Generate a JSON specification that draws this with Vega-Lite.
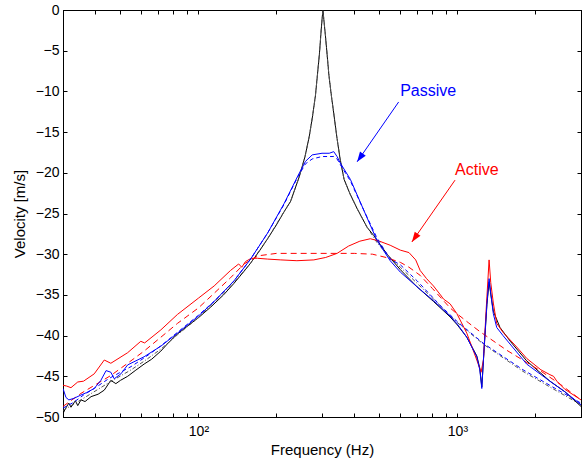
{
  "$schema": "https://vega.github.io/schema/vega-lite/v6.json",
  "width": 518,
  "height": 407,
  "autosize": "none",
  "padding": {"left": 63, "top": 10, "right": 4, "bottom": 45},
  "background": "white",
  "config": {
    "view": {"stroke": "black", "strokeWidth": 1},
    "font": "Liberation Sans",
    "axis": {"grid": false, "domainColor": "black", "tickColor": "black", "labelColor": "black", "titleColor": "black", "labelFont": "Liberation Sans", "titleFont": "Liberation Sans", "labelFontSize": 14, "titleFontSize": 15, "titleFontWeight": "normal", "tickSize": -4, "labelOverlap": false, "labelFlush": false}
  },
  "datasets": {
    "c": [
      {"s":"k","f":30,"v":-49.6},{"s":"k","f":30.6,"v":-49.0},{"s":"k","f":31.6,"v":-48.3},{"s":"k","f":32.2,"v":-48.8},{"s":"k","f":33.5,"v":-48.0},{"s":"k","f":34.2,"v":-48.6},{"s":"k","f":35.2,"v":-47.9},{"s":"k","f":36.5,"v":-48.1},{"s":"k","f":38.5,"v":-47.5},{"s":"k","f":41,"v":-47.2},{"s":"k","f":43.3,"v":-46.7},{"s":"k","f":45.9,"v":-45.5},{"s":"k","f":48,"v":-45.9},{"s":"k","f":50,"v":-45.5},{"s":"k","f":53.3,"v":-45.0},{"s":"k","f":57,"v":-44.3},{"s":"k","f":61.7,"v":-43.5},{"s":"k","f":66,"v":-42.9},{"s":"k","f":71.6,"v":-41.9},{"s":"k","f":77,"v":-40.8},{"s":"k","f":83,"v":-39.8},{"s":"k","f":91,"v":-38.8},{"s":"k","f":100,"v":-37.8},{"s":"k","f":111.5,"v":-36.5},{"s":"k","f":125,"v":-35.0},{"s":"k","f":137,"v":-33.6},{"s":"k","f":150,"v":-32.1},{"s":"k","f":159,"v":-31.1},{"s":"k","f":172,"v":-29.6},{"s":"k","f":185,"v":-28.1},{"s":"k","f":200,"v":-26.4},{"s":"k","f":214,"v":-24.8},{"s":"k","f":227,"v":-23.5},{"s":"k","f":245,"v":-20.5},{"s":"k","f":258,"v":-18.0},{"s":"k","f":268,"v":-15.5},{"s":"k","f":276,"v":-13.0},{"s":"k","f":283,"v":-10.5},{"s":"k","f":288,"v":-8.0},{"s":"k","f":293,"v":-5.5},{"s":"k","f":297,"v":-3.0},{"s":"k","f":300,"v":-1.2},{"s":"k","f":302.5,"v":0},{"s":"k","f":305,"v":-1.2},{"s":"k","f":309,"v":-3.0},{"s":"k","f":314,"v":-5.5},{"s":"k","f":319,"v":-8.0},{"s":"k","f":326,"v":-10.5},{"s":"k","f":334,"v":-13.0},{"s":"k","f":343,"v":-15.8},{"s":"k","f":352,"v":-18.2},{"s":"k","f":365,"v":-20.8},{"s":"k","f":385,"v":-22.6},{"s":"k","f":410,"v":-24.4},{"s":"k","f":448,"v":-26.7},{"s":"k","f":475,"v":-27.7},{"s":"k","f":535,"v":-30.0},{"s":"k","f":602,"v":-31.9},{"s":"k","f":698,"v":-34.0},{"s":"k","f":808,"v":-35.8},{"s":"k","f":937,"v":-37.7},{"s":"k","f":1000,"v":-38.7},{"s":"k","f":1087,"v":-40.2},{"s":"k","f":1188,"v":-42.5},{"s":"k","f":1220,"v":-44.0},{"s":"k","f":1242,"v":-46.3},{"s":"k","f":1265,"v":-42.2},{"s":"k","f":1300,"v":-36.2},{"s":"k","f":1325,"v":-33.4},{"s":"k","f":1345,"v":-34.9},{"s":"k","f":1376,"v":-37.0},{"s":"k","f":1460,"v":-39.0},{"s":"k","f":1600,"v":-40.7},{"s":"k","f":1851,"v":-43.1},{"s":"k","f":2276,"v":-45.6},{"s":"k","f":2600,"v":-46.9},{"s":"k","f":3000,"v":-48.7},

      {"s":"km","f":30,"v":-49.2},{"s":"km","f":36,"v":-47.7},{"s":"km","f":45,"v":-45.8},{"s":"km","f":55,"v":-44.2},{"s":"km","f":62,"v":-43.1},{"s":"km","f":72,"v":-41.6},{"s":"km","f":83,"v":-39.9},{"s":"km","f":100,"v":-37.8},{"s":"km","f":137,"v":-33.5},{"s":"km","f":159,"v":-31.1},{"s":"km","f":185,"v":-28.1},{"s":"km","f":210,"v":-25.2},{"s":"km","f":227,"v":-23.5},{"s":"km","f":245,"v":-20.5},{"s":"km","f":258,"v":-18.0},{"s":"km","f":268,"v":-15.5},{"s":"km","f":276,"v":-13.0},{"s":"km","f":283,"v":-10.5},{"s":"km","f":288,"v":-8.0},{"s":"km","f":293,"v":-5.5},{"s":"km","f":297,"v":-3.0},{"s":"km","f":300,"v":-1.2},{"s":"km","f":302.5,"v":0},{"s":"km","f":305,"v":-1.2},{"s":"km","f":309,"v":-3.0},{"s":"km","f":314,"v":-5.5},{"s":"km","f":319,"v":-8.0},{"s":"km","f":326,"v":-10.5},{"s":"km","f":334,"v":-13.0},{"s":"km","f":343,"v":-15.8},{"s":"km","f":352,"v":-18.2},{"s":"km","f":365,"v":-20.8},{"s":"km","f":385,"v":-22.6},{"s":"km","f":410,"v":-24.4},{"s":"km","f":448,"v":-26.7},{"s":"km","f":490,"v":-28.6},{"s":"km","f":535,"v":-30.0},{"s":"km","f":602,"v":-31.6},{"s":"km","f":700,"v":-33.6},{"s":"km","f":808,"v":-35.5},{"s":"km","f":1000,"v":-38.4},{"s":"km","f":1265,"v":-41.1},{"s":"km","f":1792,"v":-44.4},{"s":"km","f":2300,"v":-46.4},{"s":"km","f":3000,"v":-48.5},

      {"s":"rm","f":30,"v":-48.7},{"s":"rm","f":35.2,"v":-47.1},{"s":"rm","f":45.9,"v":-44.9},{"s":"rm","f":53.3,"v":-43.4},{"s":"rm","f":61.7,"v":-41.9},{"s":"rm","f":71.6,"v":-40.2},{"s":"rm","f":83,"v":-38.5},{"s":"rm","f":100,"v":-36.6},{"s":"rm","f":115,"v":-34.8},{"s":"rm","f":133,"v":-32.9},{"s":"rm","f":150,"v":-31.2},{"s":"rm","f":170,"v":-30.2},{"s":"rm","f":200,"v":-29.9},{"s":"rm","f":300,"v":-29.9},{"s":"rm","f":400,"v":-29.9},{"s":"rm","f":470,"v":-30.0},{"s":"rm","f":530,"v":-30.4},{"s":"rm","f":602,"v":-31.0},{"s":"rm","f":650,"v":-31.6},{"s":"rm","f":718,"v":-32.6},{"s":"rm","f":800,"v":-34.2},{"s":"rm","f":937,"v":-36.6},{"s":"rm","f":977,"v":-37.1},{"s":"rm","f":1100,"v":-38.4},{"s":"rm","f":1220,"v":-39.5},{"s":"rm","f":1550,"v":-41.8},{"s":"rm","f":2085,"v":-44.3},{"s":"rm","f":2500,"v":-46.0},{"s":"rm","f":3000,"v":-47.9},

      {"s":"r","f":30,"v":-46.1},{"s":"r","f":31,"v":-46.2},{"s":"r","f":32.2,"v":-46.4},{"s":"r","f":34.2,"v":-45.7},{"s":"r","f":36,"v":-45.6},{"s":"r","f":39.6,"v":-44.7},{"s":"r","f":43.3,"v":-43.0},{"s":"r","f":45.9,"v":-43.4},{"s":"r","f":53.3,"v":-42.1},{"s":"r","f":59.9,"v":-40.7},{"s":"r","f":62,"v":-40.9},{"s":"r","f":71.6,"v":-39.3},{"s":"r","f":83,"v":-37.4},{"s":"r","f":100,"v":-35.4},{"s":"r","f":115,"v":-33.9},{"s":"r","f":133,"v":-32.0},{"s":"r","f":143,"v":-31.2},{"s":"r","f":147,"v":-31.6},{"s":"r","f":152,"v":-30.9},{"s":"r","f":160,"v":-30.5},{"s":"r","f":169,"v":-30.5},{"s":"r","f":185,"v":-30.6},{"s":"r","f":208,"v":-30.7},{"s":"r","f":240,"v":-30.8},{"s":"r","f":279,"v":-30.7},{"s":"r","f":310,"v":-30.4},{"s":"r","f":343,"v":-29.9},{"s":"r","f":380,"v":-29.0},{"s":"r","f":420,"v":-28.4},{"s":"r","f":461,"v":-28.1},{"s":"r","f":500,"v":-28.4},{"s":"r","f":550,"v":-28.9},{"s":"r","f":602,"v":-29.5},{"s":"r","f":650,"v":-29.8},{"s":"r","f":690,"v":-30.7},{"s":"r","f":718,"v":-32.0},{"s":"r","f":760,"v":-33.0},{"s":"r","f":808,"v":-33.9},{"s":"r","f":860,"v":-35.0},{"s":"r","f":883,"v":-35.5},{"s":"r","f":937,"v":-36.1},{"s":"r","f":995,"v":-37.3},{"s":"r","f":1087,"v":-39.7},{"s":"r","f":1188,"v":-43.0},{"s":"r","f":1234,"v":-44.5},{"s":"r","f":1260,"v":-43.0},{"s":"r","f":1290,"v":-37.0},{"s":"r","f":1325,"v":-30.7},{"s":"r","f":1345,"v":-33.5},{"s":"r","f":1376,"v":-36.0},{"s":"r","f":1418,"v":-38.5},{"s":"r","f":1500,"v":-39.6},{"s":"r","f":1694,"v":-41.4},{"s":"r","f":1851,"v":-42.8},{"s":"r","f":2100,"v":-44.2},{"s":"r","f":2276,"v":-44.8},{"s":"r","f":2350,"v":-45.0},{"s":"r","f":2420,"v":-45.6},{"s":"r","f":2600,"v":-46.6},{"s":"r","f":3000,"v":-47.9},

      {"s":"bm","f":30,"v":-48.9},{"s":"bm","f":33,"v":-48.2},{"s":"bm","f":36,"v":-47.3},{"s":"bm","f":40,"v":-46.4},{"s":"bm","f":45,"v":-45.3},{"s":"bm","f":50,"v":-44.5},{"s":"bm","f":55,"v":-43.8},{"s":"bm","f":62,"v":-42.7},{"s":"bm","f":72,"v":-41.2},{"s":"bm","f":83,"v":-39.6},{"s":"bm","f":100,"v":-37.5},{"s":"bm","f":115,"v":-35.8},{"s":"bm","f":137,"v":-33.3},{"s":"bm","f":159,"v":-30.6},{"s":"bm","f":185,"v":-27.4},{"s":"bm","f":214,"v":-23.9},{"s":"bm","f":241,"v":-20.6},{"s":"bm","f":259,"v":-18.9},{"s":"bm","f":275,"v":-18.3},{"s":"bm","f":300,"v":-18.0},{"s":"bm","f":320,"v":-18.0},{"s":"bm","f":333,"v":-18.0},{"s":"bm","f":343,"v":-18.3},{"s":"bm","f":353,"v":-19.0},{"s":"bm","f":386,"v":-21.0},{"s":"bm","f":435,"v":-24.6},{"s":"bm","f":489,"v":-28.0},{"s":"bm","f":550,"v":-30.6},{"s":"bm","f":602,"v":-31.3},{"s":"bm","f":700,"v":-33.3},{"s":"bm","f":808,"v":-35.4},{"s":"bm","f":858,"v":-36.3},{"s":"bm","f":1000,"v":-38.3},{"s":"bm","f":1265,"v":-41.0},{"s":"bm","f":1792,"v":-44.2},{"s":"bm","f":2300,"v":-46.2},{"s":"bm","f":3000,"v":-48.3},

      {"s":"b","f":30,"v":-46.5},{"s":"b","f":30.8,"v":-47.6},{"s":"b","f":31.6,"v":-47.9},{"s":"b","f":33.1,"v":-47.7},{"s":"b","f":35.2,"v":-47.3},{"s":"b","f":37,"v":-47.0},{"s":"b","f":39.6,"v":-46.5},{"s":"b","f":42,"v":-45.5},{"s":"b","f":44,"v":-44.3},{"s":"b","f":45.9,"v":-44.5},{"s":"b","f":47.3,"v":-45.3},{"s":"b","f":50.2,"v":-44.7},{"s":"b","f":53.3,"v":-43.6},{"s":"b","f":61.7,"v":-42.6},{"s":"b","f":71.6,"v":-41.3},{"s":"b","f":83,"v":-39.7},{"s":"b","f":100,"v":-37.6},{"s":"b","f":115,"v":-35.8},{"s":"b","f":137,"v":-33.3},{"s":"b","f":159,"v":-30.6},{"s":"b","f":185,"v":-27.4},{"s":"b","f":214,"v":-23.8},{"s":"b","f":241,"v":-20.5},{"s":"b","f":259,"v":-18.6},{"s":"b","f":275,"v":-17.8},{"s":"b","f":300,"v":-17.6},{"s":"b","f":320,"v":-17.6},{"s":"b","f":333,"v":-17.4},{"s":"b","f":343,"v":-18.0},{"s":"b","f":353,"v":-18.8},{"s":"b","f":386,"v":-20.8},{"s":"b","f":435,"v":-24.6},{"s":"b","f":489,"v":-28.3},{"s":"b","f":550,"v":-30.8},{"s":"b","f":602,"v":-32.2},{"s":"b","f":698,"v":-34.0},{"s":"b","f":808,"v":-35.7},{"s":"b","f":937,"v":-37.6},{"s":"b","f":1000,"v":-38.6},{"s":"b","f":1087,"v":-40.2},{"s":"b","f":1188,"v":-42.6},{"s":"b","f":1220,"v":-44.2},{"s":"b","f":1242,"v":-46.5},{"s":"b","f":1265,"v":-42.0},{"s":"b","f":1300,"v":-36.0},{"s":"b","f":1325,"v":-33.0},{"s":"b","f":1345,"v":-34.8},{"s":"b","f":1376,"v":-37.3},{"s":"b","f":1418,"v":-39.0},{"s":"b","f":1500,"v":-40.0},{"s":"b","f":1851,"v":-43.5},{"s":"b","f":2276,"v":-45.6},{"s":"b","f":2600,"v":-46.9},{"s":"b","f":3000,"v":-48.5}
    ],
    "arrows": [
      {"a":"Passive","end":"tail","f":593,"v":-11.3},{"a":"Passive","end":"tip","f":410,"v":-18.65},
      {"a":"Active","end":"tail","f":979,"v":-20.9},{"a":"Active","end":"tip","f":667,"v":-28.5}
    ],
    "labels": [
      {"t":"Passive","f":601,"v":-10.0},
      {"t":"Active","f":979,"v":-19.7}
    ]
  },
  "layer": [
    {
      "data": {"name": "c"},
      "transform": [{"filter": "datum.s === 'k'"}],
      "mark": {"type": "line", "color": "black", "strokeWidth": 1, "clip": true},
      "encoding": {
        "x": {"field": "f", "type": "quantitative", "scale": {"type": "log", "domain": [30, 3000], "nice": false},
          "axis": {"orient": "bottom", "title": "Frequency (Hz)", "values": [30,40,50,60,70,80,90,100,200,300,400,500,600,700,800,900,1000,2000,3000], "labelExpr": "datum.value == 100 ? '10²' : (datum.value == 1000 ? '10³' : '')", "labelPadding": 11, "titlePadding": 4}},
        "y": {"field": "v", "type": "quantitative", "scale": {"domain": [-50, 0], "nice": false},
          "axis": {"orient": "left", "title": "Velocity [m/s]", "values": [-50,-45,-40,-35,-30,-25,-20,-15,-10,-5,0], "labelPadding": 8, "titlePadding": 8}}
      }
    },
    {
      "data": {"name": "c"},
      "transform": [{"filter": "datum.s === 'km'"}],
      "mark": {"type": "line", "color": "#555555", "strokeWidth": 1, "strokeDash": [4, 2, 1, 2], "clip": true},
      "encoding": {
        "x": {"field": "f", "type": "quantitative", "axis": {"orient": "top", "title": null, "labels": false, "values": [30,40,50,60,70,80,90,100,200,300,400,500,600,700,800,900,1000,2000,3000]}},
        "y": {"field": "v", "type": "quantitative", "axis": {"orient": "right", "title": null, "labels": false, "values": [-50,-45,-40,-35,-30,-25,-20,-15,-10,-5,0]}}
      }
    },
    {
      "data": {"name": "c"},
      "transform": [{"filter": "datum.s === 'rm'"}],
      "mark": {"type": "line", "color": "#ff0000", "strokeWidth": 1, "strokeDash": [6, 4], "clip": true},
      "encoding": {
        "x": {"field": "f", "type": "quantitative", "axis": null},
        "y": {"field": "v", "type": "quantitative", "axis": null}
      }
    },
    {
      "data": {"name": "c"},
      "transform": [{"filter": "datum.s === 'r'"}],
      "mark": {"type": "line", "color": "#ff0000", "strokeWidth": 1, "clip": true},
      "encoding": {
        "x": {"field": "f", "type": "quantitative", "axis": null},
        "y": {"field": "v", "type": "quantitative", "axis": null}
      }
    },
    {
      "data": {"name": "c"},
      "transform": [{"filter": "datum.s === 'bm'"}],
      "mark": {"type": "line", "color": "#0000ff", "strokeWidth": 1, "strokeDash": [4, 3], "clip": true},
      "encoding": {
        "x": {"field": "f", "type": "quantitative", "axis": null},
        "y": {"field": "v", "type": "quantitative", "axis": null}
      }
    },
    {
      "data": {"name": "c"},
      "transform": [{"filter": "datum.s === 'b'"}],
      "mark": {"type": "line", "color": "#0000ff", "strokeWidth": 1, "clip": true},
      "encoding": {
        "x": {"field": "f", "type": "quantitative", "axis": null},
        "y": {"field": "v", "type": "quantitative", "axis": null}
      }
    },
    {
      "data": {"name": "arrows"},
      "transform": [{"filter": "datum.a === 'Passive'"}],
      "mark": {"type": "line", "color": "#0000ff", "strokeWidth": 1},
      "encoding": {
        "x": {"field": "f", "type": "quantitative", "axis": null},
        "y": {"field": "v", "type": "quantitative", "axis": null}
      }
    },
    {
      "data": {"name": "arrows"},
      "transform": [{"filter": "datum.a === 'Active'"}],
      "mark": {"type": "line", "color": "#ff0000", "strokeWidth": 1},
      "encoding": {
        "x": {"field": "f", "type": "quantitative", "axis": null},
        "y": {"field": "v", "type": "quantitative", "axis": null}
      }
    },
    {
      "data": {"name": "arrows"},
      "transform": [{"filter": "datum.a === 'Passive' && datum.end === 'tip'"}],
      "mark": {"type": "point", "shape": "M0,0L-0.7,2L0.7,2Z", "filled": true, "color": "#0000ff", "opacity": 1, "size": 100, "angle": 215, "strokeWidth": 0},
      "encoding": {
        "x": {"field": "f", "type": "quantitative", "axis": null},
        "y": {"field": "v", "type": "quantitative", "axis": null}
      }
    },
    {
      "data": {"name": "arrows"},
      "transform": [{"filter": "datum.a === 'Active' && datum.end === 'tip'"}],
      "mark": {"type": "point", "shape": "M0,0L-0.7,2L0.7,2Z", "filled": true, "color": "#ff0000", "opacity": 1, "size": 100, "angle": 215, "strokeWidth": 0},
      "encoding": {
        "x": {"field": "f", "type": "quantitative", "axis": null},
        "y": {"field": "v", "type": "quantitative", "axis": null}
      }
    },
    {
      "data": {"name": "labels"},
      "transform": [{"filter": "datum.t === 'Passive'"}],
      "mark": {"type": "text", "color": "#0000ff", "font": "Liberation Sans", "fontSize": 16, "align": "left", "baseline": "middle"},
      "encoding": {
        "x": {"field": "f", "type": "quantitative", "axis": null},
        "y": {"field": "v", "type": "quantitative", "axis": null},
        "text": {"field": "t"}
      }
    },
    {
      "data": {"name": "labels"},
      "transform": [{"filter": "datum.t === 'Active'"}],
      "mark": {"type": "text", "color": "#ff0000", "font": "Liberation Sans", "fontSize": 16, "align": "left", "baseline": "middle"},
      "encoding": {
        "x": {"field": "f", "type": "quantitative", "axis": null},
        "y": {"field": "v", "type": "quantitative", "axis": null},
        "text": {"field": "t"}
      }
    }
  ],
  "resolve": {"axis": {"x": "independent", "y": "independent"}}
}
